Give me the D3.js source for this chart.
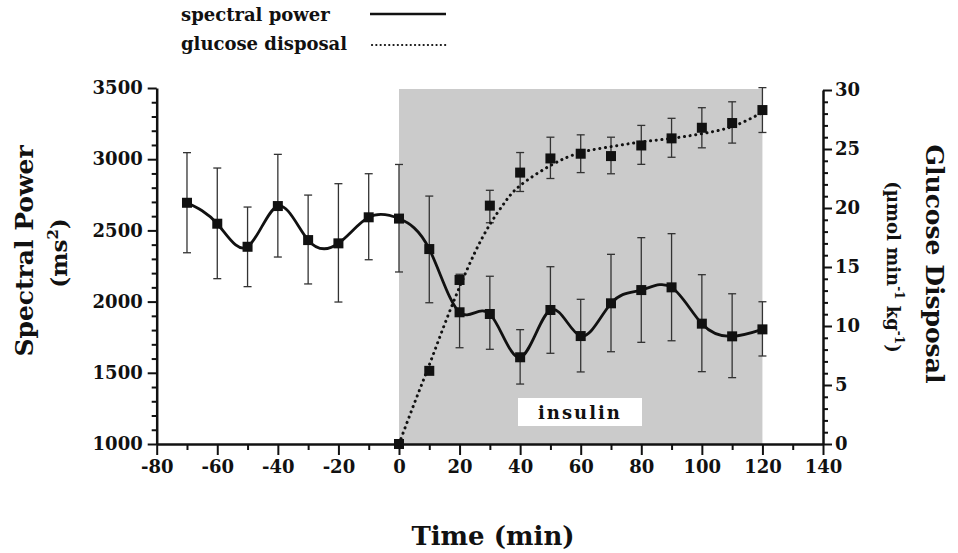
<!DOCTYPE html>
<html><head><meta charset="utf-8">
<script src="https://cdn.jsdelivr.net/npm/d3@7"></script>
<style>body{margin:0;background:#fff}</style>
</head><body><svg id="c" width="958" height="553"></svg>
<script>
// ---- data ----
const times = [-70,-60,-50,-40,-30,-20,-10,0,10,20,30,40,50,60,70,80,90,100,110,120];
const spectralMean = [2694,2547,2385,2671,2432,2409,2592,2583,2369,1925,1913,1609,1941,1758,1988,2081,2100,1845,1756,1805];
const spectralHi   = [3046,2938,2664,3034,2748,2828,2898,2963,2741,2192,2178,1803,2245,2016,2332,2449,2477,2189,2055,1999];
const spectralLo   = [2343,2161,2105,2313,2124,1997,2294,2208,1992,1676,1665,1421,1637,1506,1648,1714,1725,1508,1466,1618];

const glucoseTimes = [0,10,20,30,40,50,60,70,80,90,100,110,120];
const glucoseMean  = [0,6.2,13.9,20.2,23.0,24.2,24.6,24.4,25.3,25.9,26.8,27.2,28.3];
const glucoseHi    = [null,null,null,21.5,24.7,26.0,26.2,26.0,27.0,27.6,28.5,29.0,30.2];
const glucoseLo    = [null,null,null,18.75,21.4,22.5,23.0,22.9,23.7,24.3,25.1,25.5,26.4];

const glucoseFitT  = [0,5,10,15,20,25,30,35,40,50,60,70,80,90,100,110,120];
const glucoseFitV  = [0,3.4,6.7,10.1,13.3,16.2,18.6,20.5,21.9,23.6,24.7,25.2,25.6,25.9,26.3,26.9,28.1];

const xTickValues = [-80,-60,-40,-20,0,20,40,60,80,100,120,140];
const leftTickValues = [1000,1500,2000,2500,3000,3500];
const rightTickValues = [0,5,10,15,20,25,30];
const insulinStart = 0, insulinEnd = 120;

// ---- layout ----
const svg = d3.select("#c");
const font = "'DejaVu Serif', serif";
const ink = "#111";
const x = d3.scaleLinear().domain([-80,140]).range([156.7,823]);
const yL = d3.scaleLinear().domain([1000,3500]).range([444,88]);
const yR = d3.scaleLinear().domain([0,30]).range([444,90]);

// shaded insulin period
svg.append("rect")
  .attr("x", x(insulinStart)).attr("y", yL(3500)+1)
  .attr("width", x(insulinEnd)-x(insulinStart)).attr("height", yL(1000)-yL(3500)-1)
  .attr("fill", "#cbcbcb");
svg.append("rect").attr("x",518).attr("y",398).attr("width",124).attr("height",28).attr("fill","#fff");
svg.append("text").attr("x",580).attr("y",419).attr("text-anchor","middle")
  .attr("font-family",font).attr("font-weight","bold").attr("font-size",18)
  .attr("letter-spacing",2).attr("fill",ink).text("insulin");

// error bars
function errBars(ts, hi, lo, y) {
  const g = svg.append("g").attr("stroke","#333").attr("stroke-width",1.3);
  ts.forEach((t,i)=>{
    if (hi[i]==null) return;
    const cx = x(t);
    g.append("line").attr("x1",cx).attr("x2",cx).attr("y1",y(hi[i])).attr("y2",y(lo[i]));
    g.append("line").attr("x1",cx-4).attr("x2",cx+4).attr("y1",y(hi[i])).attr("y2",y(hi[i]));
    g.append("line").attr("x1",cx-4).attr("x2",cx+4).attr("y1",y(lo[i])).attr("y2",y(lo[i]));
  });
}
errBars(times, spectralHi, spectralLo, yL);
errBars(glucoseTimes, glucoseHi, glucoseLo, yR);

// lines
svg.append("path")
  .attr("d", d3.line().x((d,i)=>x(times[i])).y(d=>yL(d)).curve(d3.curveNatural)(spectralMean))
  .attr("fill","none").attr("stroke",ink).attr("stroke-width",2.8);
svg.append("path")
  .attr("d", d3.line().x((d,i)=>x(glucoseFitT[i])).y(d=>yR(d)).curve(d3.curveNatural)(glucoseFitV))
  .attr("fill","none").attr("stroke",ink).attr("stroke-width",3)
  .attr("stroke-dasharray","0.1 5.6").attr("stroke-linecap","round");

// markers
const sq = 10;
svg.append("g").selectAll("rect").data(spectralMean).join("rect")
  .attr("x",(d,i)=>x(times[i])-sq/2).attr("y",d=>yL(d)-sq/2)
  .attr("width",sq).attr("height",sq).attr("fill",ink);
svg.append("g").selectAll("rect").data(glucoseMean).join("rect")
  .attr("x",(d,i)=>x(glucoseTimes[i])-sq/2).attr("y",d=>yR(d)-sq/2)
  .attr("width",sq).attr("height",sq).attr("fill",ink);

// axes
const fmt = d => String(d);
function styleAxis(g, fs) {
  g.select(".domain").attr("stroke",ink).attr("stroke-width",2.5);
  g.selectAll(".tick line").attr("stroke",ink).attr("stroke-width",2);
  g.selectAll(".tick text").attr("font-family",font).attr("font-weight","bold")
    .attr("font-size",fs).attr("fill",ink);
}
// minor ticks
const xMinor = svg.append("g").attr("transform","translate(0,444)")
  .call(d3.axisBottom(x).tickValues(d3.range(-70,140,20)).tickSize(6).tickFormat(""));
xMinor.select(".domain").remove();
xMinor.selectAll(".tick line").attr("stroke",ink).attr("stroke-width",2);
const lMinor = svg.append("g").attr("transform","translate(156.7,0)")
  .call(d3.axisLeft(yL).tickValues(d3.range(1100,3500,100).filter(v=>v%500)).tickSize(5).tickFormat(""));
lMinor.select(".domain").remove();
lMinor.selectAll(".tick line").attr("stroke",ink).attr("stroke-width",2);
const rMinor = svg.append("g").attr("transform","translate(823,0)")
  .call(d3.axisRight(yR).tickValues(d3.range(1,30,1).filter(v=>v%5)).tickSize(5).tickFormat(""));
rMinor.select(".domain").remove();
rMinor.selectAll(".tick line").attr("stroke",ink).attr("stroke-width",2);

const xa = svg.append("g").attr("transform","translate(0,444)")
  .call(d3.axisBottom(x).tickValues(xTickValues).tickSize(11).tickSizeOuter(0).tickPadding(5).tickFormat(fmt));
styleAxis(xa, 18);
const la = svg.append("g").attr("transform","translate(156.7,0)")
  .call(d3.axisLeft(yL).tickValues(leftTickValues).tickSize(9).tickSizeOuter(0).tickPadding(5).tickFormat(fmt));
styleAxis(la, 18);
const ra = svg.append("g").attr("transform","translate(823,0)")
  .call(d3.axisRight(yR).tickValues(rightTickValues).tickSize(9).tickSizeOuter(0).tickPadding(3).tickFormat(fmt));
styleAxis(ra, 18);

// titles
svg.append("text").attr("transform","translate(33,251) rotate(-90)").attr("text-anchor","middle")
  .attr("font-family",font).attr("font-weight","bold").attr("font-size",25).attr("fill",ink)
  .text("Spectral Power");
const ms = svg.append("text").attr("transform","translate(67,253) rotate(-90)").attr("text-anchor","middle")
  .attr("font-family",font).attr("font-weight","bold").attr("font-size",23).attr("fill",ink);
ms.append("tspan").text("(ms");
ms.append("tspan").attr("dy",-9).attr("font-size",15).text("2");
ms.append("tspan").attr("dy",9).text(")");

svg.append("text").attr("transform","translate(926,264) rotate(90)").attr("text-anchor","middle")
  .attr("font-family",font).attr("font-weight","bold").attr("font-size",25).attr("fill",ink)
  .text("Glucose Disposal");
const un = svg.append("text").attr("transform","translate(887,267) rotate(90)").attr("text-anchor","middle")
  .attr("font-family",font).attr("font-weight","bold").attr("font-size",18).attr("fill",ink);
un.append("tspan").text("(\u00b5mol min");
un.append("tspan").attr("dy",-8).attr("font-size",12).text("-1");
un.append("tspan").attr("dy",8).text(" kg");
un.append("tspan").attr("dy",-8).attr("font-size",12).text("-1");
un.append("tspan").attr("dy",8).text(")");

svg.append("text").attr("x",493).attr("y",545).attr("text-anchor","middle")
  .attr("font-family",font).attr("font-weight","bold").attr("font-size",26).attr("fill",ink)
  .text("Time (min)");

// legend
svg.append("text").attr("x",181).attr("y",21).attr("font-family",font).attr("font-weight","bold")
  .attr("font-size",18).attr("fill",ink).text("spectral power");
svg.append("text").attr("x",181).attr("y",50).attr("font-family",font).attr("font-weight","bold")
  .attr("font-size",18).attr("fill",ink).text("glucose disposal");
svg.append("line").attr("x1",370).attr("x2",446).attr("y1",14).attr("y2",14)
  .attr("stroke",ink).attr("stroke-width",2.5);
svg.append("line").attr("x1",372).attr("x2",448).attr("y1",45).attr("y2",45)
  .attr("stroke",ink).attr("stroke-width",2.2).attr("stroke-dasharray","0.1 4.2").attr("stroke-linecap","round");
</script>
</body></html>
